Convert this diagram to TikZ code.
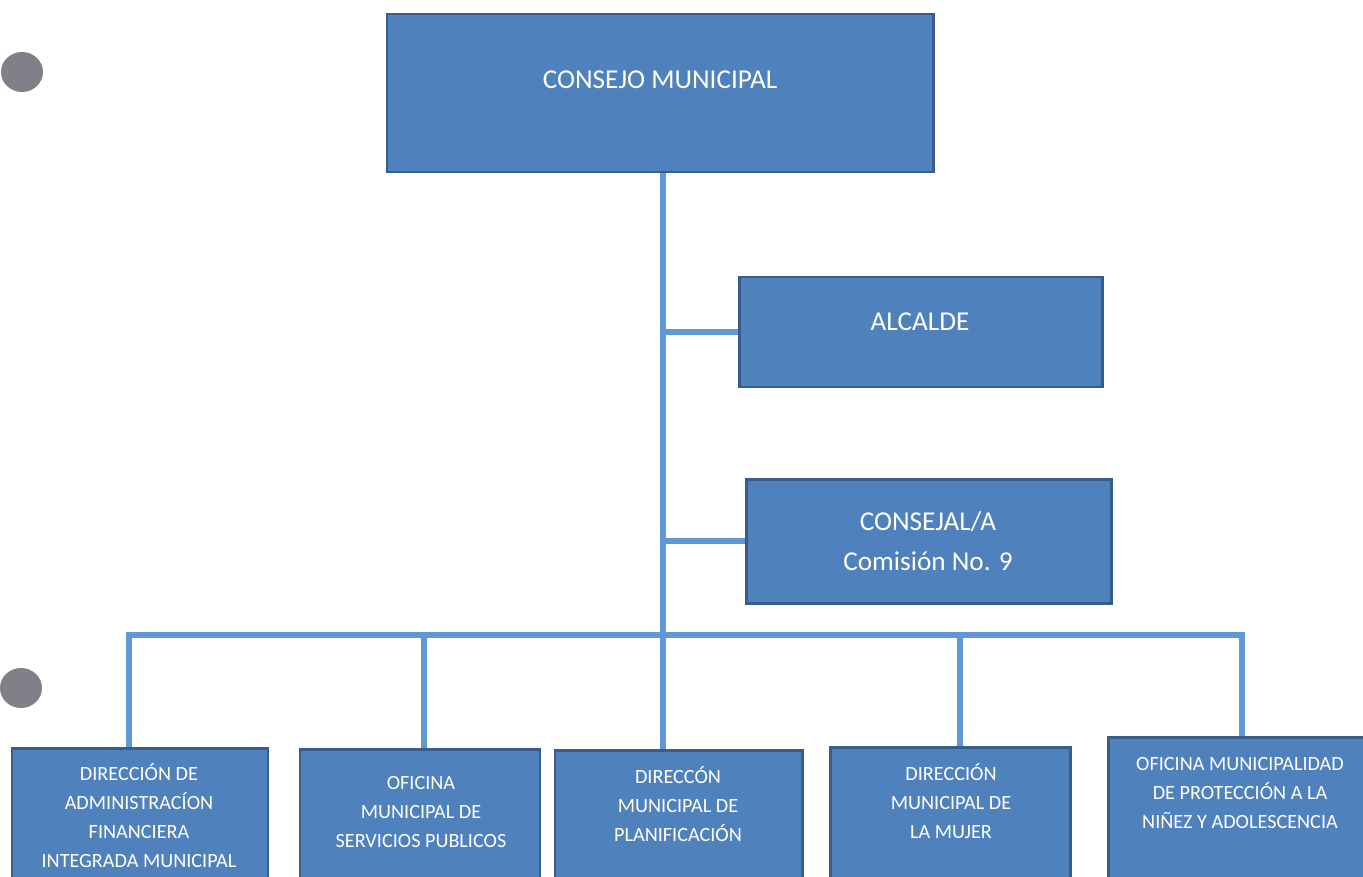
\documentclass[tikz,border=0pt]{standalone}
\usepackage{fontspec}
\setmainfont{Carlito}
\usetikzlibrary{fit, positioning}

\definecolor{boxfill}{RGB}{79,129,189}
\definecolor{boxline}{RGB}{56,93,138}
\definecolor{linkblue}{RGB}{95,152,212}
\definecolor{holegray}{RGB}{128,128,136}

\begin{document}
\begin{tikzpicture}[x=0.02cm, y=-0.02cm]

  \tikzstyle{box} = [rectangle, draw = boxline, fill = boxfill, line width = 1.7pt, inner sep = 0pt];
  \tikzstyle{big} = [text = white, align = center, font = \fontsize{15.5}{23}\selectfont];
  \tikzstyle{small} = [text = white, align = center, font = \fontsize{11.5}{16.5}\selectfont];
  \tikzstyle{link} = [draw = linkblue, line width = 3.9pt];

  \useasboundingbox (0,0) rectangle (1363,876);
  \clip (0,0) rectangle (1363,876);
  \fill[white] (0,0) rectangle (1363,876);

  % punch holes of the scanned page
  \fill[holegray] (22,72) ellipse [x radius=21, y radius=20];
  \fill[holegray] (21,688) ellipse [x radius=21, y radius=20];

  \node [box, fit={(387,14) (933,172)}]   (consejo)       {};
  \node [big] (consejo-label) at (660,80) {CONSEJO MUNICIPAL};

  \node [box, fit={(739,277) (1102,387)}] (alcalde)       {};
  \node [big] (alcalde-label) at (920,322) {ALCALDE};

  \node [box, fit={(746,479) (1111,603)}] (consejal)      {};
  \node [big] (consejal-label) at (928,541) {CONSEJAL/A\\Comisión No. 9};

  \node [box, fit={(12,748) (268,900)}]   (dafim)         {};
  \node [small] (dafim-label) at (139,816) {DIRECCIÓN DE\\ADMINISTRACÍON\\FINANCIERA\\INTEGRADA MUNICIPAL};

  \node [box, fit={(300,749) (540,900)}]  (omsp)          {};
  \node [small] (omsp-label) at (421,812) {OFICINA\\MUNICIPAL DE\\SERVICIOS PUBLICOS};

  \node [box, fit={(555,750) (802,900)}]  (dmp)           {};
  \node [small] (dmp-label) at (678,804) {DIRECCÓN\\MUNICIPAL DE\\PLANIFICACIÓN};

  \node [box, fit={(830,747) (1070,900)}] (dmm)           {};
  \node [small] (dmm-label) at (951,801) {DIRECCIÓN\\MUNICIPAL DE\\LA MUJER};

  \node [box, fit={(1108,737) (1375,900)}] (ompna)        {};
  \node [small] (ompna-label) at (1240,793) {OFICINA MUNICIPALIDAD\\DE PROTECCIÓN A LA\\NIÑEZ Y ADOLESCENCIA};

  \coordinate (hub) at (663,635);
  \coordinate (d1)  at (129,635);
  \coordinate (d2)  at (424,635);
  \coordinate (d4)  at (960,635);
  \coordinate (d5)  at (1242,635);

  \draw[link] (consejo.south -| hub) -- (hub);
  \draw[link] (alcalde.west) -- (alcalde.west -| hub);
  \draw[link] (consejal.west) -- (consejal.west -| hub);

  \draw[link] (d1 |- dafim.north) -- (d1) -- (d5) -- (d5 |- ompna.north);
  \draw[link] (d2) -- (d2 |- omsp.north);
  \draw[link] (hub) -- (hub |- dmp.north);
  \draw[link] (d4) -- (d4 |- dmm.north);

\end{tikzpicture}
\end{document}
